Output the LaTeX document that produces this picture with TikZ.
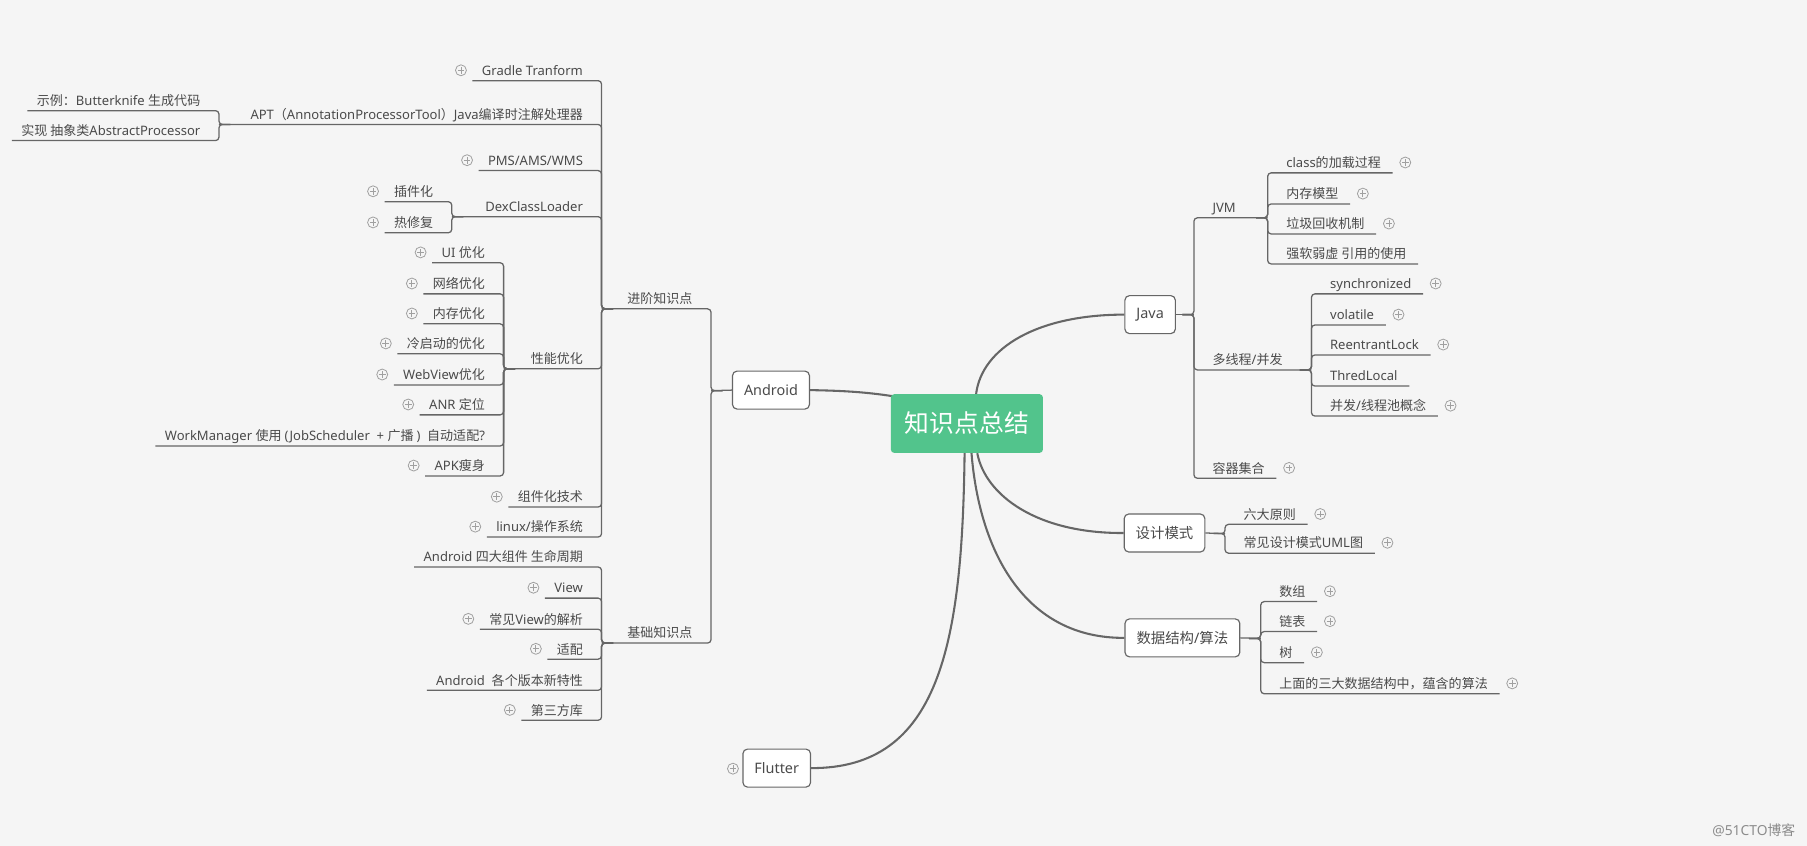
\documentclass[tikz,border=0pt]{standalone}
\usepackage{fontspec}
\setmainfont{Noto Sans}
\newfontfamily\cjkf{Noto Sans CJK SC}
\newfontfamily\latf{Noto Sans}
\XeTeXinterchartokenstate=1
\newXeTeXintercharclass\cjkclass
\newcount\cjkcnt
\def\setcjkrange#1#2{\cjkcnt=#1\relax
  \loop \XeTeXcharclass\cjkcnt=\cjkclass \ifnum\cjkcnt<#2\relax \advance\cjkcnt by 1 \repeat}
\setcjkrange{"4E00}{"9FFF}
\setcjkrange{"3000}{"303F}
\setcjkrange{"FF00}{"FFEF}
\XeTeXinterchartoks 0 \cjkclass = {\cjkf}
\XeTeXinterchartoks 4095 \cjkclass = {\cjkf}
\XeTeXinterchartoks \cjkclass 0 = {\latf}
\XeTeXinterchartoks 4095 0 = {\latf}
\usetikzlibrary{calc,backgrounds}
\definecolor{bg}{HTML}{F5F5F5}
\definecolor{ln}{HTML}{666666}
\definecolor{tx}{HTML}{4A4A4A}
\definecolor{gr}{HTML}{52C48C}
\definecolor{pl}{HTML}{A0A0A0}
\definecolor{wmc}{HTML}{8C8C8C}

% left leaf: name, spineX, lineY, text, parent point, plus(1/0)
\newcommand\LeafL[6]{%
  \node[topic,anchor=base east] (#1) at ({#2-16},{#3-4.5}) {#4};
  \coordinate (#1-s) at ($(#1.base west)+(-8,4.5)$);
  \draw[branch] (#1-s) -- (#2,#3) -- (#5) -- ++(10,0);
  \ifnum#6=1 \node[plusic] (#1-p) at ($(#1-s)+(-10,-9)$) {};\fi
}
% left middle: name, spineX, lineY, text, parent point, child spine X
\newcommand\MidL[6]{%
  \node[topic,anchor=base east] (#1) at ({#2-16},{#3-4.5}) {#4};
  \coordinate (#1-j) at (#6,#3);
  \draw[branch] (#1-j) -- (#2,#3) -- (#5) -- ++(10,0);
}
% right leaf
\newcommand\LeafR[6]{%
  \node[topic,anchor=base west] (#1) at ({#2+16},{#3-4.5}) {#4};
  \coordinate (#1-s) at ($(#1.base east)+(10,4.5)$);
  \draw[branch] (#1-s) -- (#2,#3) -- (#5) -- ++(-10,0);
  \ifnum#6=1 \node[plusic] (#1-p) at ($(#1-s)+(11,-9)$) {};\fi
}
% right middle
\newcommand\MidR[6]{%
  \node[topic,anchor=base west] (#1) at ({#2+16},{#3-4.5}) {#4};
  \coordinate (#1-j) at (#6,#3);
  \draw[branch] (#1-j) -- (#2,#3) -- (#5) -- ++(-10,0);
}

\begin{document}
\begin{tikzpicture}[x=1pt,y=-1pt,
  topic/.style={font=\fontsize{11.3}{13}\selectfont, text=tx, inner sep=0pt},
  branch/.style={draw=ln, line width=1.1pt, rounded corners=3pt},
  curve/.style={draw=ln, line width=1.8pt},
  box/.style={draw=ln, line width=1pt, fill=white, rounded corners=4pt,
    minimum height=33pt, inner xsep=10pt, font=\fontsize{12.5}{14}\selectfont, text=tx},
  plusic/.style={circle, draw=pl, line width=0.7pt, minimum size=9.5pt, inner sep=0pt,
    path picture={\draw[pl,line width=0.7pt]
      ([xshift=-2.9pt]path picture bounding box.center) -- ([xshift=2.9pt]path picture bounding box.center)
      ([yshift=-2.9pt]path picture bounding box.center) -- ([yshift=2.9pt]path picture bounding box.center);}}
]
\useasboundingbox (0,0) rectangle (1568,734);
\begin{scope}[on background layer]
  \fill[bg] (0,0) rectangle (1568,734);
\end{scope}

% main nodes
\node[fill=gr, rounded corners=3pt, minimum width=132pt, minimum height=51pt,
  text=white, font=\fontsize{21.5}{24}\selectfont] (root) at (839,367.5) {知识点总结};
\node[box] (android) at (669,338.5) {Android};
\node[box] (flutter) at (674,666.5) {Flutter};
\node[plusic] (flutter-p) at (636,667) {};
\node[box] (java) at (998,273) {Java};
\node[box] (design) at (1010.5,462.5) {设计模式};
\node[box] (ds) at (1026,553.5) {数据结构/算法};

% curves from root
\begin{scope}[on background layer]
\draw[curve] ($(root.north west)+(2,2)$) .. controls (750,340) and (730,339) .. (android.east);
\draw[curve] ($(root.north)+(8,0)$) .. controls (852,302) and (900,273) .. (java.west);
\draw[curve] ($(root.south)+(9,0)$) .. controls (855,430) and (900,463) .. (design.west);
\draw[curve] ($(root.south)+(4,0)$) .. controls (850,480) and (890,554) .. (ds.west);
\draw[curve] ($(root.south)+(-2,0)$) .. controls (835,560) and (815,667) .. (flutter.east);
\end{scope}

% ---------------- Android ----------------
\coordinate (andJ) at (617,339);
\draw[branch] (android.west) -- (andJ);
\MidL{jinjie}{617}{268}{进阶知识点}{andJ}{522}
\MidL{jichu}{617}{558}{基础知识点}{andJ}{522}

\LeafL{gradle}{522}{70}{Gradle Tranform}{jinjie-j}{1}
\MidL{apt}{522}{108}{APT（AnnotationProcessorTool）Java编译时注解处理器}{jinjie-j}{190}
\LeafL{apt1}{190}{96}{示例：Butterknife 生成代码}{apt-j}{0}
\LeafL{apt2}{190}{122}{实现 抽象类AbstractProcessor}{apt-j}{0}
\LeafL{pms}{522}{148}{PMS/AMS/WMS}{jinjie-j}{1}
\MidL{dex}{522}{188}{DexClassLoader}{jinjie-j}{392}
\LeafL{plug}{392}{175}{插件化}{dex-j}{1}
\LeafL{hot}{392}{202}{热修复}{dex-j}{1}
\MidL{perf}{522}{320}{性能优化}{jinjie-j}{437}
\LeafL{ui}{437}{228}{UI 优化}{perf-j}{1}
\LeafL{net}{437}{255}{网络优化}{perf-j}{1}
\LeafL{mem}{437}{281}{内存优化}{perf-j}{1}
\LeafL{cold}{437}{307}{冷启动的优化}{perf-j}{1}
\LeafL{web}{437}{334}{WebView优化}{perf-j}{1}
\LeafL{anr}{437}{360}{ANR 定位}{perf-j}{1}
\LeafL{work}{437}{387}{WorkManager 使用 (JobScheduler \ + 广播 ) \ 自动适配?}{perf-j}{0}
\LeafL{apk}{437}{413}{APK瘦身}{perf-j}{1}
\LeafL{comp}{522}{440}{组件化技术}{jinjie-j}{1}
\LeafL{linux}{522}{466}{linux/操作系统}{jinjie-j}{1}

\LeafL{four}{522}{492}{Android 四大组件 生命周期}{jichu-j}{0}
\LeafL{view}{522}{519}{View}{jichu-j}{1}
\LeafL{cview}{522}{546}{常见View的解析}{jichu-j}{1}
\LeafL{adapt}{522}{572}{适配}{jichu-j}{1}
\LeafL{ver}{522}{599}{Android \ 各个版本新特性}{jichu-j}{0}
\LeafL{lib}{522}{625}{第三方库}{jichu-j}{1}

% ---------------- Java ----------------
\coordinate (javaJ) at (1036,273);
\draw[branch] (java.east) -- (javaJ);
\MidR{jvm}{1036}{189}{JVM}{javaJ}{1100}
\LeafR{cls}{1100}{150}{class的加载过程}{jvm-j}{1}
\LeafR{mm}{1100}{177}{内存模型}{jvm-j}{1}
\LeafR{gc}{1100}{203}{垃圾回收机制}{jvm-j}{1}
\LeafR{ref}{1100}{229}{强软弱虚 引用的使用}{jvm-j}{0}
\MidR{thr}{1036}{321}{多线程/并发}{javaJ}{1138}
\LeafR{sync}{1138}{255}{synchronized}{thr-j}{1}
\LeafR{vol}{1138}{282}{volatile}{thr-j}{1}
\LeafR{rl}{1138}{308}{ReentrantLock}{thr-j}{1}
\LeafR{tl}{1138}{335}{ThredLocal}{thr-j}{0}
\LeafR{pool}{1138}{361}{并发/线程池概念}{thr-j}{1}
\LeafR{coll}{1036}{415}{容器集合}{javaJ}{1}

% ---------------- Design patterns ----------------
\coordinate (dJ) at (1063,463);
\draw[branch] (design.east) -- (dJ);
\LeafR{six}{1063}{455}{六大原则}{dJ}{1}
\LeafR{uml}{1063}{480}{常见设计模式UML图}{dJ}{1}

% ---------------- Data structures ----------------
\coordinate (sJ) at (1094,554);
\draw[branch] (ds.east) -- (sJ);
\LeafR{arr}{1094}{522}{数组}{sJ}{1}
\LeafR{lnk}{1094}{548}{链表}{sJ}{1}
\LeafR{tree}{1094}{575}{树}{sJ}{1}
\LeafR{algo}{1094}{602}{上面的三大数据结构中，蕴含的算法}{sJ}{1}

% watermark
\node[font=\fontsize{12}{14}\selectfont, text=wmc, anchor=base east, inner sep=0pt] (wm) at (1558,725) {@51CTO博客};
\end{tikzpicture}
\end{document}
